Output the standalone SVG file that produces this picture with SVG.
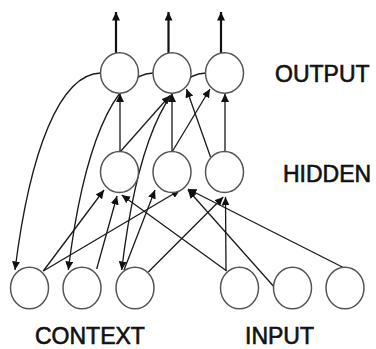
<svg xmlns="http://www.w3.org/2000/svg" width="376" height="349" viewBox="0 0 376 349">
<style>
.node{fill:#fff;stroke:#555;stroke-width:1.5}
.c{fill:none;stroke:#1a1a1a;stroke-width:1.3;marker-end:url(#ah)}
.t{fill:none;stroke:#111;stroke-width:2.2;marker-end:url(#ah)}
.lbl{font-family:"Liberation Sans",Arial,sans-serif;font-size:23px;fill:#111;stroke:#111;stroke-width:0.6}
</style>
<defs>
<marker id="ah" markerUnits="userSpaceOnUse" markerWidth="9" markerHeight="8" refX="8.5" refY="4" orient="auto">
<path d="M0,0 L8.5,4 L0,8 z" fill="#111"/>
</marker>
</defs>
<g id="connectors">
<line class="t" x1="116" y1="53" x2="116" y2="12"/>
<line class="t" x1="168.5" y1="53" x2="168.5" y2="12"/>
<line class="t" x1="221" y1="53" x2="221" y2="12"/>
<line class="c" x1="120" y1="152" x2="120" y2="93.5"/>
<line class="c" x1="172" y1="152" x2="172" y2="93.5"/>
<line class="c" x1="225" y1="152" x2="225" y2="93.5"/>
<line class="c" x1="120" y1="152" x2="170" y2="95.5"/>
<line class="c" x1="172" y1="152" x2="210" y2="89"/>
<line class="c" x1="210.5" y1="157" x2="186.5" y2="89"/>
<path class="c" d="M100.7,73 C60,74 30,150 15,270"/>
<path class="c" d="M153.3,73 C113,74 83,150 68.3,270"/>
<path class="c" d="M205.7,73 C166,74 136,150 121.7,270"/>
<line class="c" x1="43.3" y1="271" x2="104" y2="190"/>
<line class="c" x1="43.3" y1="271" x2="180" y2="190"/>
<line class="c" x1="96.7" y1="269" x2="117" y2="196"/>
<line class="c" x1="226.7" y1="271" x2="121.7" y2="195"/>
<line class="c" x1="124" y1="270" x2="155" y2="190"/>
<line class="c" x1="148.3" y1="272" x2="223.3" y2="197"/>
<line class="c" x1="226" y1="271" x2="225.5" y2="197"/>
<line class="c" x1="273.3" y1="286" x2="188" y2="190"/>
<line class="c" x1="343.3" y1="267.5" x2="188" y2="189"/>
</g>
<g id="out1"><ellipse class="node" cx="119.5" cy="73" rx="19" ry="20.3"/></g>
<g id="out2"><ellipse class="node" cx="172" cy="73" rx="19" ry="20.3"/></g>
<g id="out3"><ellipse class="node" cx="224.5" cy="73" rx="19" ry="20.3"/></g>
<g id="hid1"><ellipse class="node" cx="119.5" cy="172" rx="19" ry="20.5"/></g>
<g id="hid2"><ellipse class="node" cx="172" cy="172" rx="19" ry="20.5"/></g>
<g id="hid3"><ellipse class="node" cx="224.5" cy="172" rx="19" ry="20.5"/></g>
<g id="ctx1"><ellipse class="node" cx="29.5" cy="288" rx="19" ry="20.8"/></g>
<g id="ctx2"><ellipse class="node" cx="82" cy="288" rx="19" ry="20.8"/></g>
<g id="ctx3"><ellipse class="node" cx="135" cy="288" rx="19" ry="20.8"/></g>
<g id="in1"><ellipse class="node" cx="239.5" cy="288" rx="19" ry="20.8"/></g>
<g id="in2"><ellipse class="node" cx="292.5" cy="288" rx="19" ry="20.8"/></g>
<g id="in3"><ellipse class="node" cx="345" cy="288" rx="19" ry="20.8"/></g>
<g id="labels">
<text class="lbl" x="275" y="81.5">OUTPUT</text>
<text class="lbl" x="283" y="181.5">HIDDEN</text>
<text class="lbl" x="35" y="344">CONTEXT</text>
<text class="lbl" x="245" y="344">INPUT</text>
</g>
</svg>
